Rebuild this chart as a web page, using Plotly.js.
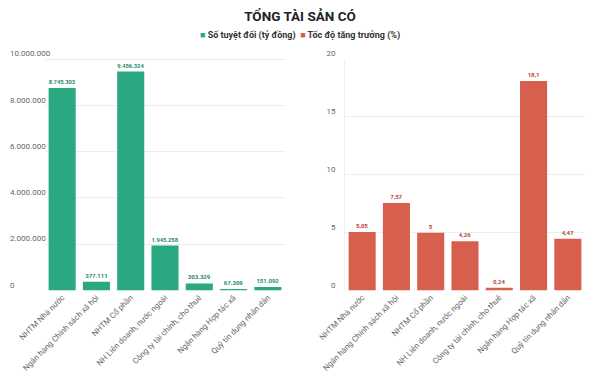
<!DOCTYPE html>
<html>
<head>
<meta charset="utf-8">
<script src="https://cdn.plot.ly/plotly-3.0.1.min.js"></script>
<style>html,body{margin:0;padding:0;background:#fff}#chart{width:600px;height:382px}</style>
</head>
<body>
<div id="chart"></div>
<script>
const categories = ["NHTM Nhà nước", "Ngân hàng Chính sách xã hội", "NHTM Cổ phần", "NH Liên doanh, nước ngoài", "Công ty tài chính, cho thuê", "Ngân hàng Hợp tác xã", "Quỹ tín dụng nhân dân"];
const absoluteValues = [8745303, 377111, 9456324, 1945258, 303329, 67309, 151092];
const growthValues = [5.05, 7.57, 5, 4.26, 0.24, 18.1, 4.47];
const leftTicks = [0, 2000000, 4000000, 6000000, 8000000, 10000000];
const rightTicks = [0, 5, 10, 15, 20];
const seriesNames = ["Số tuyệt đối (tỷ đồng)", "Tốc độ tăng trưởng (%)"];

const green = "#29a881";
const red = "#d6604d";
const FONT = "Roboto, Lato, sans-serif";

const traces = [
  {
    type: "bar", name: seriesNames[0], x: categories, y: absoluteValues,
    xaxis: "x", yaxis: "y",
    marker: {color: green},
    texttemplate: "%{y:,}", textposition: "outside", cliponaxis: false,
    textfont: {size: 6, color: "#1f8a69", family: FONT, weight: "bold"},
    hoverinfo: "x+y", showlegend: false
  },
  {
    type: "bar", name: seriesNames[1], x: categories, y: growthValues,
    xaxis: "x2", yaxis: "y2",
    marker: {color: red},
    texttemplate: "%{y:.2~f}", textposition: "outside", cliponaxis: false,
    textfont: {size: 6, color: "#b8453a", family: FONT, weight: "bold"},
    hoverinfo: "x+y", showlegend: false
  }
];

const px0 = 290.5, px1 = 59;          // pixel rows of 0 and max tick
const yBottom = 1 - px0 / 382;
const leftMax = 10500000;
const leftTopPx = px0 - (px0 - px1) * leftMax / 10000000;

const legendText =
  "<span style='color:" + green + "'>■</span> " + seriesNames[0] + "  " +
  "<span style='color:" + red + "'>■</span> " + seriesNames[1];

const layout = {
  width: 600, height: 382,
  margin: {l: 0, r: 0, t: 0, b: 0},
  paper_bgcolor: "#fff", plot_bgcolor: "#fff",
  separators: ",.",
  font: {family: FONT, color: "#555"},
  bargap: 0.21,
  showlegend: false,
  title: {text: "TỔNG TÀI SẢN CÓ", x: 0.5, xanchor: "center", y: 1 - 16 / 382, yanchor: "middle",
          font: {size: 13.5, color: "#222", family: FONT, weight: "bold"}},
  annotations: [
    {text: legendText, xref: "paper", yref: "paper", x: 0.5, xanchor: "center",
     y: 1 - 36 / 382, yanchor: "middle", showarrow: false,
     font: {size: 9, color: "#333", family: FONT, weight: "bold"}}
  ],
  xaxis: {domain: [45 / 600, 285 / 600], anchor: "y", tickangle: -45, showgrid: false,
          tickfont: {size: 8, color: "#666"}, showline: false, ticks: "", fixedrange: true},
  yaxis: {domain: [yBottom, 1 - leftTopPx / 382], range: [0, leftMax], tickvals: leftTicks, tickformat: ",",
          anchor: "free", position: 6 / 600, ticklabelposition: "inside top",
          showgrid: true, gridcolor: "#eeeeee", zeroline: false, showline: false,
          tickfont: {size: 8, color: "#666"}, ticks: "", fixedrange: true},
  xaxis2: {domain: [345 / 600, 585 / 600], anchor: "y2", tickangle: -45, showgrid: false,
           tickfont: {size: 8, color: "#666"}, showline: false, ticks: "", fixedrange: true},
  yaxis2: {domain: [yBottom, 1 - px1 / 382], range: [0, 20], tickvals: rightTicks, anchor: "x2",
           ticklabelposition: "outside top", ticklabelstandoff: 7,
           showgrid: true, gridcolor: "#eeeeee", zeroline: false,
           showline: true, linecolor: "#f0f0f0",
           tickfont: {size: 8, color: "#666"}, ticks: "", fixedrange: true}
};

Plotly.newPlot("chart", traces, layout, {displayModeBar: false, staticPlot: true});
</script>
</body>
</html>
